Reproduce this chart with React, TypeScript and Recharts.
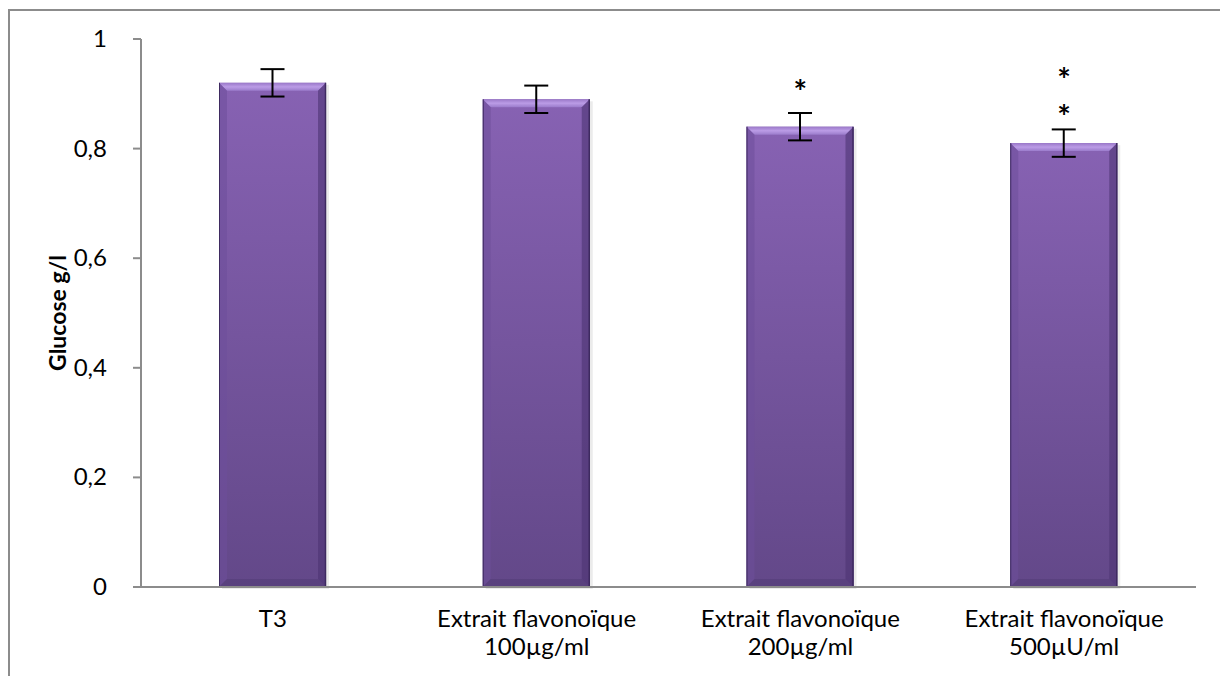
import { ComposedChart, Bar, XAxis, YAxis, ErrorBar, Scatter } from 'recharts'

const categories = ['T3', 'Extrait flavonoïque\n100µg/ml', 'Extrait flavonoïque\n200µg/ml', 'Extrait flavonoïque\n500µU/ml']
const glucose = [0.92, 0.89, 0.84, 0.81]
const errors = [0.025, 0.025, 0.025, 0.025]
// asterisk positions (in g/l) marking significance
const starLow = [null, null, 0.918, 0.873]
const starHigh = [null, null, null, 0.94]
const yTicks = [0, 0.2, 0.4, 0.6, 0.8, 1]

const data = categories.map((name, i) => ({
  name,
  glucose: glucose[i],
  err: errors[i],
  starLow: starLow[i],
  starHigh: starHigh[i],
}))

const FONT = 'Lato, sans-serif'
const AXIS = '#8c8c8c'

function BevelBar(props: any) {
  const { x, y, width, height } = props
  if (!height || height <= 0) return null
  const b = 8
  return (
    <g>
      <rect x={x + 3} y={y + 2} width={width} height={height} fill="#000" opacity={0.08} />
      <rect x={x} y={y} width={width} height={height} fill="url(#barBody)" />
      <polygon points={`${x},${y} ${x + width},${y} ${x + width - b},${y + b} ${x + b},${y + b}`} fill="url(#bevelTop)" />
      <polygon points={`${x},${y} ${x + b},${y + b} ${x + b},${y + height - b} ${x},${y + height}`} fill="#6d4f9a" opacity={0.55} />
      <polygon points={`${x + width},${y} ${x + width - b},${y + b} ${x + width - b},${y + height - b} ${x + width},${y + height}`} fill="#4c3373" opacity={0.6} />
      <polygon points={`${x},${y + height} ${x + b},${y + height - b} ${x + width - b},${y + height - b} ${x + width},${y + height}`} fill="#4f3a73" opacity={0.5} />
      <line x1={x + 0.5} y1={y} x2={x + 0.5} y2={y + height} stroke="#3e2a60" strokeWidth={1} />
      <line x1={x + width - 0.5} y1={y} x2={x + width - 0.5} y2={y + height} stroke="#3e2a60" strokeWidth={1.5} />
    </g>
  )
}

function Star(props: any) {
  const { cx, cy } = props
  if (cx == null || cy == null) return null
  return (
    <text x={cx} y={cy + 20} textAnchor="middle" fontFamily={FONT} fontWeight={700} fontSize={32} fill="#000">
      *
    </text>
  )
}

function CatTick(props: any) {
  const { x, y, payload } = props
  const lines = String(payload.value).split('\n')
  return (
    <text x={x} y={y} textAnchor="middle" fontFamily={FONT} fontSize={24} fill="#000">
      {lines.map((l, i) => (
        <tspan key={i} x={x} y={y + 32 + i * 28}>
          {l}
        </tspan>
      ))}
    </text>
  )
}

function ValTick(props: any) {
  const { x, y, payload } = props
  return (
    <text x={x - 24} y={y} dy={8} textAnchor="end" fontFamily={FONT} fontSize={24} fill="#000">
      {String(payload.value).replace('.', ',')}
    </text>
  )
}

export default function App() {
  return (
    <div style={{ position: 'absolute', left: 0, top: 0, width: 1220, height: 676, overflow: 'hidden', background: '#fff' }}>
      <div
        style={{
          position: 'absolute',
          left: 8,
          top: 9,
          width: 1300,
          height: 700,
          borderLeft: `2px solid ${AXIS}`,
          borderTop: `2px solid ${AXIS}`,
        }}
      />
      <div style={{ position: 'absolute', left: 0, top: 0 }}>
        <ComposedChart width={1220} height={676} data={data} margin={{ top: 39, right: 24, bottom: 59, left: 81 }}>
          <defs>
            <linearGradient id="barBody" x1="0" y1="0" x2="0" y2="1">
              <stop offset="0%" stopColor="#8762b3" />
              <stop offset="100%" stopColor="#634889" />
            </linearGradient>
            <linearGradient id="bevelTop" x1="0" y1="0" x2="0" y2="1">
              <stop offset="0%" stopColor="#9a78c8" />
              <stop offset="50%" stopColor="#bb9ce6" />
              <stop offset="100%" stopColor="#9a7bcb" />
            </linearGradient>
          </defs>
          <XAxis
            dataKey="name"
            tick={<CatTick />}
            tickLine={false}
            axisLine={{ stroke: AXIS, strokeWidth: 2 }}
            interval={0}
          />
          <YAxis
            width={60}
            domain={[0, 1]}
            ticks={yTicks}
            tick={<ValTick />}
            tickLine={{ stroke: AXIS, strokeWidth: 2 }}
            tickSize={8}
            axisLine={{ stroke: AXIS, strokeWidth: 2 }}
            label={{
              value: 'Glucose g/l',
              angle: -90,
              position: 'insideLeft',
              offset: -23,
              style: { textAnchor: 'middle', fontFamily: FONT, fontSize: 23, fontWeight: 700, fill: '#000' },
            }}
          />
          <Bar dataKey="glucose" barSize={107} shape={<BevelBar />} isAnimationActive={false}>
            <ErrorBar dataKey="err" width={12} stroke="#000" strokeWidth={2} direction="y" />
          </Bar>
          <Scatter dataKey="starLow" shape={<Star />} isAnimationActive={false} />
          <Scatter dataKey="starHigh" shape={<Star />} isAnimationActive={false} />
        </ComposedChart>
      </div>
    </div>
  )
}
